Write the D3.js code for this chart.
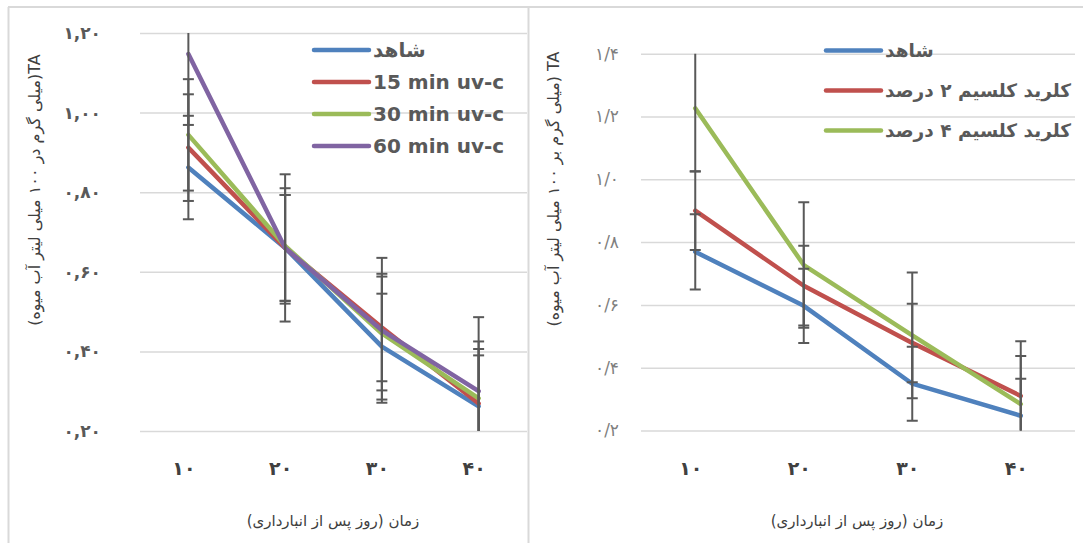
<!DOCTYPE html>
<html>
<head>
<meta charset="utf-8">
<script src="https://cdn.jsdelivr.net/npm/d3@7"></script>
<style>
  html, body { margin: 0; padding: 0; background: #fff; }
  svg { display: block; }
  text { font-family: "DejaVu Sans", "Noto Sans", sans-serif; }
</style>
</head>
<body>
<svg id="chart" width="1083" height="543"></svg>
<script>
// ---------- shared ----------
const categories = ["۱۰", "۲۰", "۳۰", "۴۰"];

// ---------- left chart (UV-C) ----------
const leftTicks = [0.2, 0.4, 0.6, 0.8, 1.0, 1.2];
const leftTickLabels = ["۰,۲۰", "۰,۴۰", "۰,۶۰", "۰,۸۰", "۱,۰۰", "۱,۲۰"];
const leftNames = ["شاهد", "15 min uv-c", "30 min uv-c", "60 min uv-c"];
const leftControl = [0.862, 0.660, 0.412, 0.262];
const leftUv15    = [0.912, 0.660, 0.460, 0.269];
const leftUv30    = [0.944, 0.665, 0.445, 0.282];
const leftUv60    = [1.147, 0.660, 0.453, 0.300];
const leftControlErr = [0.130, 0.133, 0.133, 0.128];
const leftUv15Err    = [0.134, 0.133, 0.135, 0.137];
const leftUv30Err    = [0.140, 0.145, 0.143, 0.143];
const leftUv60Err    = [0.178, 0.185, 0.182, 0.186];
const leftYTitle = "TA(میلی گرم در ۱۰۰ میلی لیتر آب میوه)";

// ---------- right chart (CaCl2) ----------
const rightTicks = [0.2, 0.4, 0.6, 0.8, 1.0, 1.2, 1.4];
const rightTickLabels = ["۰/۲", "۰/۴", "۰/۶", "۰/۸", "۱/۰", "۱/۲", "۱/۴"];
const rightNames = ["شاهد", "کلرید کلسیم ۲ درصد", "کلرید کلسیم ۴ درصد"];
const rightControl = [0.769, 0.597, 0.349, 0.247];
const rightCa2     = [0.900, 0.661, 0.479, 0.310];
const rightCa4     = [1.226, 0.727, 0.503, 0.284];
const rightControlErr = [0.120, 0.118, 0.118, 0.118];
const rightCa2Err     = [0.125, 0.127, 0.125, 0.127];
const rightCa4Err     = [0.200, 0.200, 0.200, 0.200];
const rightYTitle = "TA (میلی گرم بر ۱۰۰ میلی لیتر آب میوه)";

const xTitle = "زمان (روز پس از انبارداری)";
const colors = ["#4F81BD", "#C0504D", "#9BBB59", "#8064A2"];

const svg = d3.select("#chart");
svg.append("rect").attr("width", 1083).attr("height", 543).attr("fill", "#fff");

// panel borders
svg.append("line").attr("x1", 8).attr("x2", 1083).attr("y1", 7).attr("y2", 7)
  .attr("stroke", "#D9D9D9").attr("stroke-width", 2);
svg.append("line").attr("x1", 8.5).attr("x2", 8.5).attr("y1", 7).attr("y2", 543)
  .attr("stroke", "#D9D9D9").attr("stroke-width", 2);
svg.append("line").attr("x1", 528.5).attr("x2", 528.5).attr("y1", 7).attr("y2", 543)
  .attr("stroke", "#D9D9D9").attr("stroke-width", 2);

function drawPanel(cfg) {
  const g = svg.append("g");
  const x = d3.scalePoint().domain(categories).range([cfg.x0, cfg.x1]).padding(0.5);
  const y = d3.scaleLinear().domain([cfg.yMin, cfg.yMax]).range([cfg.yBottom, cfg.yTop]);

  // gridlines + tick labels
  const yAxis = d3.axisLeft(y).tickValues(cfg.ticks)
    .tickFormat((d, i) => cfg.tickLabels[i])
    .tickSize(-(cfg.x1 - cfg.x0)).tickPadding(cfg.tickPad);
  const ya = g.append("g").attr("transform", `translate(${cfg.x0},0)`).call(yAxis);
  ya.select(".domain").remove();
  ya.selectAll(".tick line").attr("stroke", "#D9D9D9").attr("stroke-width", 1.5);
  ya.selectAll(".tick text").attr("fill", cfg.tickColor)
    .style("font-size", cfg.tickSize + "px").style("font-weight", cfg.tickWeight)
    .style("font-family", "'DejaVu Sans', sans-serif");

  // category axis
  const xAxis = d3.axisBottom(x).tickSize(0).tickPadding(31);
  const xa = g.append("g").attr("transform", `translate(0,${cfg.yBottom})`).call(xAxis);
  xa.select(".domain").remove();
  xa.selectAll(".tick text").attr("fill", "#404040").attr("dx", -5)
    .style("font-size", "19px").style("font-weight", "bold")
    .style("font-family", "'DejaVu Sans', sans-serif");

  // clip
  const clipId = "clip" + cfg.id;
  svg.append("clipPath").attr("id", clipId).append("rect")
    .attr("x", cfg.x0 - 20).attr("y", cfg.yTop).attr("width", cfg.x1 - cfg.x0 + 40)
    .attr("height", cfg.yBottom - cfg.yTop);

  const plot = g.append("g").attr("clip-path", `url(#${clipId})`);
  const line = d3.line().x((d, i) => x(categories[i])).y(d => y(d));

  cfg.series.forEach((s, k) => {
    plot.append("path").datum(s.values).attr("d", line)
      .attr("fill", "none").attr("stroke", colors[k]).attr("stroke-width", 4.5)
      .attr("stroke-linejoin", "round").attr("stroke-linecap", "round");
  });

  // error bars
  cfg.series.forEach((s, k) => {
    const eb = plot.append("g").selectAll("g").data(s.values).join("g");
    eb.append("line")
      .attr("x1", (d, i) => x(categories[i])).attr("x2", (d, i) => x(categories[i]))
      .attr("y1", (d, i) => y(d + s.err[i])).attr("y2", (d, i) => y(d - s.err[i]))
      .attr("stroke", "#595959").attr("stroke-width", 2);
    [1, -1].forEach(sg => {
      eb.append("line")
        .attr("x1", (d, i) => x(categories[i]) - 5.5).attr("x2", (d, i) => x(categories[i]) + 5.5)
        .attr("y1", (d, i) => y(d + sg * s.err[i])).attr("y2", (d, i) => y(d + sg * s.err[i]))
        .attr("stroke", "#595959").attr("stroke-width", 2);
    });
  });

  // legend
  const lg = g.append("g").selectAll("g").data(cfg.series).join("g")
    .attr("transform", (d, i) => `translate(${cfg.legX},${cfg.legY + i * cfg.legStep})`);
  lg.append("line").attr("x1", 0).attr("x2", cfg.legLen).attr("y1", 0).attr("y2", 0)
    .attr("stroke", (d, i) => colors[i]).attr("stroke-width", 4.5).attr("stroke-linecap", "round");
  lg.append("text")
    .attr("x", cfg.legLen + 4).attr("y", 0).attr("dy", "0.35em")
    .attr("direction", d => /[a-z]/i.test(d.name) ? "ltr" : "rtl")
    .attr("text-anchor", d => /[a-z]/i.test(d.name) ? "start" : "end")
    .attr("fill", "#595959")
    .style("font-size", cfg.legFont + "px").style("font-weight", "bold")
    .text(d => d.name);

  // axis titles
  g.append("text")
    .attr("transform", `translate(${cfg.yTitleX},${cfg.yTitleY}) rotate(-90)`)
    .attr("direction", "rtl").attr("text-anchor", "middle").attr("dy", "0.35em")
    .attr("fill", "#404040").style("font-size", "16px")
    .text(cfg.yTitle);
  g.append("text")
    .attr("x", cfg.xTitleX).attr("y", cfg.xTitleY)
    .attr("direction", "rtl").attr("text-anchor", "middle").attr("dy", "0.35em")
    .attr("fill", "#404040").style("font-size", "15px")
    .text(xTitle);
}

drawPanel({
  id: "L", x0: 140, x1: 527, yMin: 0.2, yMax: 1.2, yBottom: 431, yTop: 33,
  ticks: leftTicks, tickLabels: leftTickLabels, tickPad: 39, tickColor: "#595959",
  tickSize: 17, tickWeight: "bold",
  series: [
    { name: leftNames[0], values: leftControl, err: leftControlErr },
    { name: leftNames[1], values: leftUv15, err: leftUv15Err },
    { name: leftNames[2], values: leftUv30, err: leftUv30Err },
    { name: leftNames[3], values: leftUv60, err: leftUv60Err }
  ],
  legX: 314, legY: 50, legStep: 32, legLen: 55, legFont: 20,
  yTitle: leftYTitle, yTitleX: 34, yTitleY: 190,
  xTitleX: 333, xTitleY: 521
});

drawPanel({
  id: "R", x0: 641, x1: 1075, yMin: 0.2, yMax: 1.4, yBottom: 430.5, yTop: 53.7,
  ticks: rightTicks, tickLabels: rightTickLabels, tickPad: 22, tickColor: "#7F7F7F",
  tickSize: 17, tickWeight: "normal",
  series: [
    { name: rightNames[0], values: rightControl, err: rightControlErr },
    { name: rightNames[1], values: rightCa2, err: rightCa2Err },
    { name: rightNames[2], values: rightCa4, err: rightCa4Err }
  ],
  legX: 826, legY: 50.5, legStep: 40, legLen: 55, legFont: 18.5,
  yTitle: rightYTitle, yTitleX: 553, yTitleY: 189,
  xTitleX: 857, xTitleY: 521
});
</script>
</body>
</html>
